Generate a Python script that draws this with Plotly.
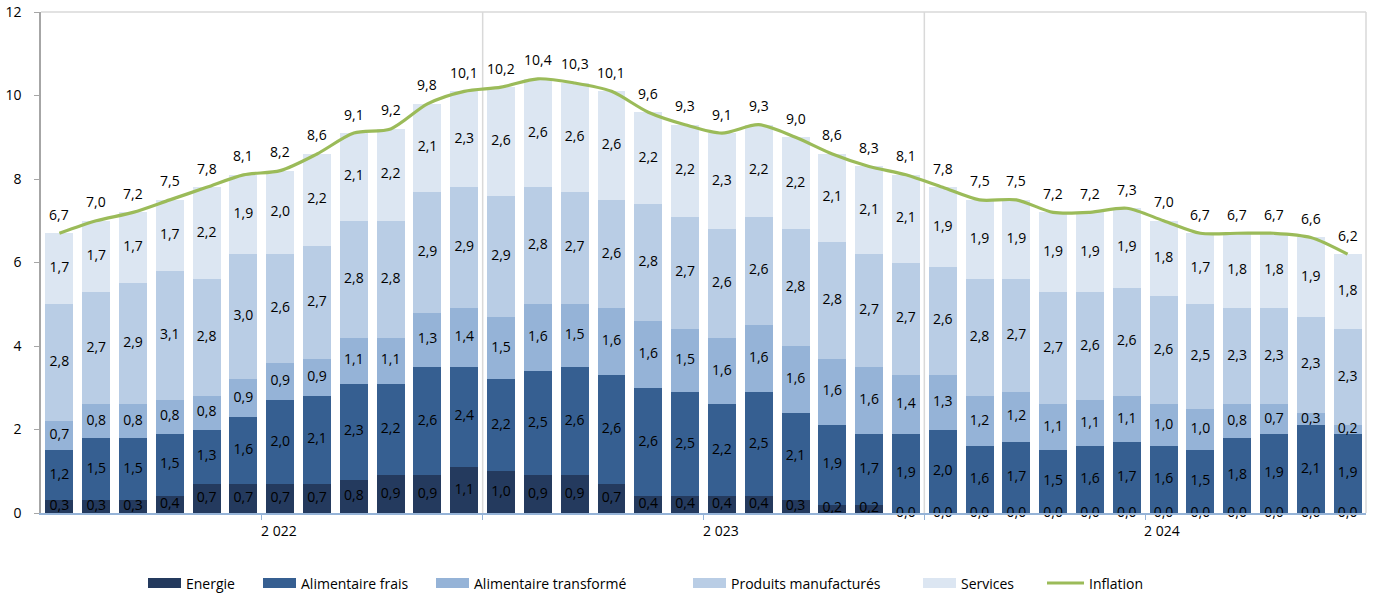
import plotly.graph_objects as go

months = list(range(36))
years = ["2 022", "2 023", "2 024"]

energie = [0.3,0.3,0.3,0.4,0.7,0.7,0.7,0.7,0.8,0.9,0.9,1.1,
           1.0,0.9,0.9,0.7,0.4,0.4,0.4,0.4,0.3,0.2,0.2,0.0,
           0.0,0.0,0.0,0.0,0.0,0.0,0.0,0.0,0.0,0.0,0.0,0.0]
alim_frais = [1.2,1.5,1.5,1.5,1.3,1.6,2.0,2.1,2.3,2.2,2.6,2.4,
              2.2,2.5,2.6,2.6,2.6,2.5,2.2,2.5,2.1,1.9,1.7,1.9,
              2.0,1.6,1.7,1.5,1.6,1.7,1.6,1.5,1.8,1.9,2.1,1.9]
alim_transf = [0.7,0.8,0.8,0.8,0.8,0.9,0.9,0.9,1.1,1.1,1.3,1.4,
               1.5,1.6,1.5,1.6,1.6,1.5,1.6,1.6,1.6,1.6,1.6,1.4,
               1.3,1.2,1.2,1.1,1.1,1.1,1.0,1.0,0.8,0.7,0.3,0.2]
produits = [2.8,2.7,2.9,3.1,2.8,3.0,2.6,2.7,2.8,2.8,2.9,2.9,
            2.9,2.8,2.7,2.6,2.8,2.7,2.6,2.6,2.8,2.8,2.7,2.7,
            2.6,2.8,2.7,2.7,2.6,2.6,2.6,2.5,2.3,2.3,2.3,2.3]
services = [1.7,1.7,1.7,1.7,2.2,1.9,2.0,2.2,2.1,2.2,2.1,2.3,
            2.6,2.6,2.6,2.6,2.2,2.2,2.3,2.2,2.2,2.1,2.1,2.1,
            1.9,1.9,1.9,1.9,1.9,1.9,1.8,1.7,1.8,1.8,1.9,1.8]
inflation = [6.7,7.0,7.2,7.5,7.8,8.1,8.2,8.6,9.1,9.2,9.8,10.1,
             10.2,10.4,10.3,10.1,9.6,9.3,9.1,9.3,9.0,8.6,8.3,8.1,
             7.8,7.5,7.5,7.2,7.2,7.3,7.0,6.7,6.7,6.7,6.6,6.2]

series = [
    ("Energie", energie, "#243A5E"),
    ("Alimentaire frais", alim_frais, "#365F91"),
    ("Alimentaire transformé", alim_transf, "#95B3D7"),
    ("Produits manufacturés", produits, "#B9CDE5"),
    ("Services", services, "#DCE6F2"),
]
line_name, line_color = "Inflation", "#9BBB59"

FONT = "Open Sans"
FS = 14
fmt = lambda v: f"{v:.1f}".replace(".", ",")

W, H = 1374, 594
ML, MR, MT, MB = 41, 8, 12, 81
PW, PH = W - ML - MR, H - MT - MB

fig = go.Figure()
base = [0.0] * 36
label_traces = []
for name, vals, col in series:
    fig.add_trace(go.Bar(x=months, y=vals, name=name, marker=dict(color=col, line=dict(width=0)),
                         hoverinfo="skip", showlegend=False))
    mids = [b + v / 2 for b, v in zip(base, vals)]
    label_traces.append(go.Scatter(x=months, y=mids, mode="text", text=[fmt(v) for v in vals],
                                   textfont=dict(family=FONT, size=FS, color="#000000"),
                                   showlegend=False, hoverinfo="skip", cliponaxis=False))
    base = [b + v for b, v in zip(base, vals)]

fig.add_trace(go.Scatter(x=months, y=inflation, name=line_name, mode="lines",
                         line=dict(color=line_color, width=3.2, shape="spline", smoothing=0.8),
                         hoverinfo="skip", showlegend=False))
for t in label_traces:
    fig.add_trace(t)

for i, v in enumerate(inflation):
    fig.add_annotation(x=months[i], y=v, text=fmt(v), showarrow=False, yshift=19,
                       font=dict(family=FONT, size=FS, color="#000000"))

year_pos = [5.5, 17.5, 29.5]
for xp, yl in zip(year_pos, years):
    fig.add_annotation(x=xp, y=0, yref="y", text=yl, showarrow=False, xanchor="left",
                       yanchor="top", yshift=-6, xshift=-3,
                       font=dict(family=FONT, size=FS, color="#000000"))

for xb in [11.5, 23.5]:
    fig.add_shape(type="line", x0=xb, x1=xb, y0=0, y1=1, yref="paper", xref="x",
                  line=dict(color="#D9D9D9", width=1.5), layer="below")

# top & right border of plot area
fig.add_shape(type="line", xref="paper", yref="paper", x0=0, x1=1, y0=1, y1=1,
              line=dict(color="#D9D9D9", width=1.5))
fig.add_shape(type="line", xref="paper", yref="paper", x0=1, x1=1, y0=0, y1=1,
              line=dict(color="#D9D9D9", width=1.5))

# legend (drawn in pixel-derived paper coordinates)
px = lambda x: (x - ML) / PW
py = lambda y: (H - MB - y) / PH
legend_items = [(n, c, "box") for n, _, c in series] + [(line_name, line_color, "line")]
swatch_x = [148, 263, 436, 693, 923, 1047]
LY = 583
for (name, col, kind), sx in zip(legend_items, swatch_x):
    if kind == "box":
        fig.add_shape(type="rect", xref="paper", yref="paper", x0=px(sx), x1=px(sx + 33),
                      y0=py(LY + 5), y1=py(LY - 5), fillcolor=col, line=dict(width=0))
        tx = sx + 36
    else:
        fig.add_shape(type="line", xref="paper", yref="paper", x0=px(sx), x1=px(sx + 37),
                      y0=py(LY), y1=py(LY), line=dict(color=col, width=3.2))
        tx = sx + 40
    fig.add_annotation(xref="paper", yref="paper", x=px(tx), y=py(LY), text=name, showarrow=False,
                       xanchor="left", yanchor="middle", font=dict(family=FONT, size=FS, color="#000000"))

fig.update_layout(
    width=W, height=H,
    margin=dict(l=ML, r=MR, t=MT, b=MB),
    paper_bgcolor="white", plot_bgcolor="white",
    barmode="stack", bargap=0.24,
    separators=", ",
    font=dict(family=FONT, size=FS, color="#000000"),
    showlegend=False,
    xaxis=dict(range=[-0.5, 35.5], tickvals=[5.5, 11.5, 17.5, 23.5, 29.5], ticktext=[""] * 5,
               ticks="outside", ticklen=5, tickcolor="#95B3D7", showgrid=False, zeroline=False,
               showline=True, linecolor="#95B3D7", linewidth=1.5, automargin=False),
    yaxis=dict(range=[0, 12], tickvals=[0, 2, 4, 6, 8, 10, 12], ticks="outside", ticklen=5,
               tickcolor="#A6A6A6", showgrid=False, zeroline=False, showline=True,
               linecolor="#A6A6A6", linewidth=1.5, ticklabelstandoff=10, automargin=False,
               tickfont=dict(family=FONT, size=FS)),
)

fig.write_html("out.html", config={"displayModeBar": False},
               post_script="document.body.style.margin='0px';document.body.style.overflow='hidden';")
